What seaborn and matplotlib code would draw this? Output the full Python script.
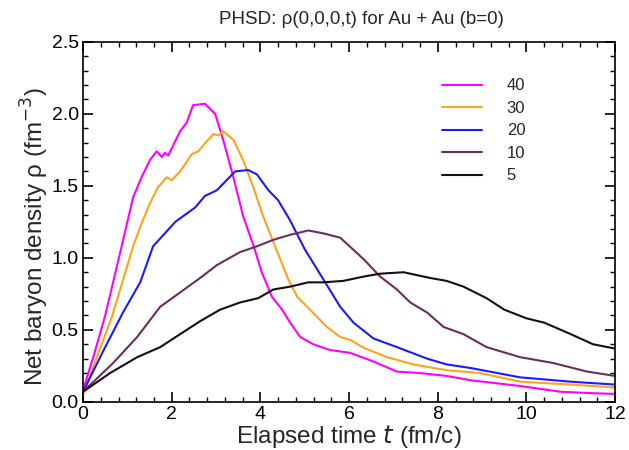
import pandas as pd
import matplotlib
matplotlib.use("Agg")
import matplotlib.pyplot as plt
from matplotlib.ticker import MultipleLocator
import seaborn as sb

# curve data
t_40 = [0, 0.25, 0.5, 0.87, 1.13, 1.32, 1.51, 1.66, 1.78, 1.85, 1.92, 2.19, 2.34, 2.48, 2.75, 2.98,
        3.16, 3.39, 3.61, 3.85, 4.03, 4.26, 4.49, 4.67, 4.9, 5.19, 5.57, 6.03, 6.55, 7.08, 7.6, 8.2,
        8.74, 9.86, 10.77, 11.5, 12]
rho_40 = [0.08, 0.33, 0.6, 1.08, 1.42, 1.56, 1.68, 1.74, 1.70, 1.73, 1.71, 1.88, 1.94, 2.06, 2.07, 2.0,
          1.82, 1.56, 1.29, 1.08, 0.90, 0.73, 0.64, 0.55, 0.45, 0.40, 0.36, 0.34, 0.28, 0.21, 0.20, 0.18,
          0.15, 0.11, 0.07, 0.06, 0.055]

t_30 = [0, 0.3, 0.65, 1.13, 1.32, 1.51, 1.69, 1.89, 2.0, 2.19, 2.45, 2.6, 2.79, 2.94, 3.05, 3.16,
        3.39, 3.61, 3.84, 4.06, 4.33, 4.63, 4.83, 5.12, 5.5, 5.8, 6.03, 6.33, 6.86, 7.45, 8.2, 8.96,
        9.86, 11.0, 12]
rho_30 = [0.05, 0.3, 0.59, 1.08, 1.24, 1.38, 1.49, 1.56, 1.54, 1.60, 1.72, 1.74, 1.81, 1.86, 1.85, 1.88,
          1.82, 1.68, 1.49, 1.29, 1.08, 0.85, 0.73, 0.64, 0.52, 0.45, 0.43, 0.375, 0.31, 0.26, 0.22, 0.20,
          0.14, 0.12, 0.10]

t_20 = [0, 0.45, 0.9, 1.29, 1.58, 2.08, 2.53, 2.75, 3.02, 3.43, 3.72, 3.92, 4.18, 4.4, 4.67, 5.0,
        5.46, 5.8, 6.1, 6.55, 7.08, 7.76, 8.2, 8.74, 9.86, 11.0, 12]
rho_20 = [0.07, 0.35, 0.62, 0.83, 1.08, 1.25, 1.35, 1.43, 1.47, 1.60, 1.61, 1.58, 1.47, 1.40, 1.26, 1.06,
          0.83, 0.66, 0.55, 0.44, 0.38, 0.30, 0.26, 0.235, 0.17, 0.14, 0.12]

t_10 = [0, 0.68, 1.22, 1.74, 2.19, 2.64, 3.02, 3.54, 3.92, 4.29, 4.67, 5.08, 5.42, 5.8, 6.33, 6.7,
        7.08, 7.38, 7.76, 8.13, 8.58, 9.1, 9.86, 10.6, 11.37, 12]
rho_10 = [0.07, 0.27, 0.45, 0.66, 0.76, 0.86, 0.95, 1.04, 1.08, 1.125, 1.16, 1.19, 1.17, 1.14, 0.99, 0.87,
          0.78, 0.69, 0.62, 0.52, 0.47, 0.38, 0.31, 0.27, 0.21, 0.18]

t_5 = [0, 0.61, 1.22, 1.74, 2.19, 2.64, 3.09, 3.54, 3.95, 4.29, 4.67, 5.08, 5.42, 5.87, 6.33, 6.7,
       7.23, 7.83, 8.2, 8.58, 9.1, 9.5, 10.0, 10.4, 11.0, 11.5, 12]
rho_5 = [0.07, 0.20, 0.31, 0.38, 0.47, 0.56, 0.64, 0.69, 0.72, 0.78, 0.80, 0.83, 0.83, 0.84, 0.87, 0.89,
         0.90, 0.86, 0.84, 0.80, 0.72, 0.64, 0.58, 0.55, 0.47, 0.40, 0.37]

energias = ["40", "30", "20", "10", "5"]
cores = ["#ff00ff", "#ffa31a", "#1a1aff", "#6b2d5c", "#111111"]

# long table for seaborn
partes = []
for nome, t, rho in [("40", t_40, rho_40), ("30", t_30, rho_30), ("20", t_20, rho_20),
                     ("10", t_10, rho_10), ("5", t_5, rho_5)]:
    partes.append(pd.DataFrame({"t": t, "rho": rho, "E": nome}))
df = pd.concat(partes, ignore_index=True)

sb.set_style("ticks")
plt.rcParams["font.family"] = ["Liberation Sans", "DejaVu Sans"]

fig = plt.figure(figsize=(6.29, 4.5), dpi=100)
ax = fig.add_axes([0.132, 0.107, 0.846, 0.8])

sb.lineplot(data=df, x="t", y="rho", hue="E", hue_order=energias,
            palette=dict(zip(energias, cores)), estimator=None, sort=False,
            linewidth=1.5, ax=ax)

ax.set_xlim(0, 12)
ax.set_ylim(0, 2.5)
ax.xaxis.set_major_locator(MultipleLocator(2))
ax.xaxis.set_minor_locator(MultipleLocator(0.4))
ax.yaxis.set_major_locator(MultipleLocator(0.5))
ax.yaxis.set_minor_locator(MultipleLocator(0.1))
ax.yaxis.set_major_formatter(matplotlib.ticker.FormatStrFormatter("%.1f"))
ax.tick_params(which="both", direction="in", top=True, right=True, labelsize=14, colors="black")
ax.tick_params(which="major", length=7, width=1.2, pad=3)
ax.tick_params(which="minor", length=3.6, width=1.0)
for lado in ax.spines.values():
    lado.set_linewidth(1.2)
    lado.set_color("black")

ax.set_xlabel("Elapsed time $\\it{t}$ (fm/c)", fontsize=17.5, labelpad=0)
ax.set_ylabel("Net baryon density ρ (fm$^{-3}$)", fontsize=17.5)
ax.yaxis.set_label_coords(-0.06, 0.46)
ax.set_title("PHSD: ρ(0,0,0,t) for Au + Au (b=0)", fontsize=13.5, x=0.524, pad=13)

leg = ax.legend(loc="upper left", bbox_to_anchor=(0.646, 0.94), frameon=False,
                handlelength=2.4, handletextpad=1.2, labelspacing=0.45, fontsize=12)
for texto in leg.get_texts():
    texto.set_ha("right")
    texto.set_position((5, 0))

fig.savefig("out.png", dpi=100)
